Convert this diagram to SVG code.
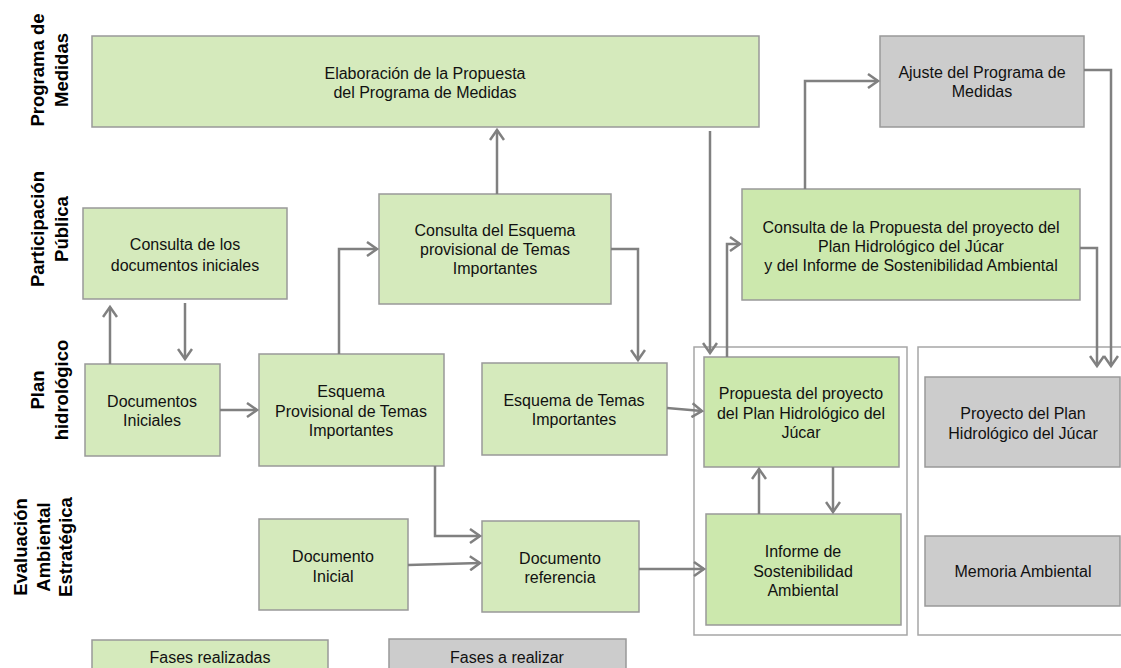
<svg xmlns="http://www.w3.org/2000/svg" width="1121" height="668" viewBox="0 0 1121 668">
<style>
.g{fill:#d5eabc;stroke:#999;stroke-width:1.5}
.g2{fill:#cce8ad;stroke:#999;stroke-width:1.5}
.gr{fill:#cccccc;stroke:#999;stroke-width:1.5}
.ob{fill:none;stroke:#a6a6a6;stroke-width:1.5}
.t{font-family:"Liberation Sans",Arial,sans-serif;font-size:16px;fill:#111;text-anchor:middle}
.lb{font-family:"Liberation Sans",Arial,sans-serif;font-size:18.5px;font-weight:bold;fill:#000;text-anchor:middle}
.c path{fill:none;stroke:#808080;stroke-width:2.5;marker-end:url(#ah)}
</style>
<defs>
<marker id="ah" markerUnits="userSpaceOnUse" markerWidth="14" markerHeight="16" viewBox="0 0 14 16" refX="11" refY="8" orient="auto">
<path d="M1,1 L11,8 L1,15" fill="none" stroke="#808080" stroke-width="2.5"/>
</marker>
</defs>
<rect width="1121" height="668" fill="#fff"/>

<g id="lanes">
<text class="lb" transform="translate(44,70) rotate(-90)">Programa de</text>
<text class="lb" transform="translate(68,70) rotate(-90)">Medidas</text>
<text class="lb" transform="translate(44,229) rotate(-90)">Participación</text>
<text class="lb" transform="translate(68,229) rotate(-90)">Pública</text>
<text class="lb" transform="translate(44,390) rotate(-90)">Plan</text>
<text class="lb" transform="translate(68,390) rotate(-90)">hidrológico</text>
<text class="lb" transform="translate(27,547) rotate(-90)">Evaluación</text>
<text class="lb" transform="translate(50,547) rotate(-90)">Ambiental</text>
<text class="lb" transform="translate(72,547) rotate(-90)">Estratégica</text>
</g>

<g id="outer1"><rect class="ob" x="694" y="347" width="213" height="288"/></g>
<g id="outer2"><rect class="ob" x="918" y="347" width="215" height="288"/></g>

<g id="elaboracion">
<rect class="g" x="92" y="36" width="667" height="91"/>
<text class="t" x="425" y="79">Elaboración de la Propuesta</text>
<text class="t" x="425" y="98">del Programa de Medidas</text>
</g>
<g id="consulta-docs">
<rect class="g" x="83" y="208" width="204" height="91"/>
<text class="t" x="185" y="250">Consulta de los</text>
<text class="t" x="185" y="271">documentos iniciales</text>
</g>
<g id="docs-iniciales">
<rect class="g" x="85" y="364" width="135" height="92"/>
<text class="t" x="152" y="407">Documentos</text>
<text class="t" x="152" y="426">Iniciales</text>
</g>
<g id="esquema-prov">
<rect class="g" x="259" y="354" width="185" height="112"/>
<text class="t" x="351" y="397">Esquema</text>
<text class="t" x="351" y="417">Provisional de Temas</text>
<text class="t" x="351" y="436">Importantes</text>
</g>
<g id="consulta-esquema">
<rect class="g" x="379" y="194" width="232" height="110"/>
<text class="t" x="495" y="236">Consulta del Esquema</text>
<text class="t" x="495" y="255">provisional de Temas</text>
<text class="t" x="495" y="274">Importantes</text>
</g>
<g id="esquema-temas">
<rect class="g" x="482" y="363" width="185" height="92"/>
<text class="t" x="574" y="406">Esquema de Temas</text>
<text class="t" x="574" y="425">Importantes</text>
</g>
<g id="doc-inicial">
<rect class="g" x="259" y="519" width="149" height="91"/>
<text class="t" x="333" y="562">Documento</text>
<text class="t" x="333" y="582">Inicial</text>
</g>
<g id="doc-referencia">
<rect class="g" x="482" y="521" width="157" height="91"/>
<text class="t" x="560" y="564">Documento</text>
<text class="t" x="560" y="583">referencia</text>
</g>
<g id="propuesta">
<rect class="g2" x="704" y="357" width="195" height="110"/>
<text class="t" x="801" y="399">Propuesta del proyecto</text>
<text class="t" x="801" y="419">del Plan Hidrológico del</text>
<text class="t" x="801" y="438">Júcar</text>
</g>
<g id="informe">
<rect class="g2" x="706" y="514" width="195" height="111"/>
<text class="t" x="803" y="557">Informe de</text>
<text class="t" x="803" y="577">Sostenibilidad</text>
<text class="t" x="803" y="596">Ambiental</text>
</g>
<g id="consulta-propuesta">
<rect class="g2" x="742" y="189" width="338" height="111"/>
<text class="t" x="911" y="233">Consulta de la Propuesta del proyecto del</text>
<text class="t" x="911" y="252">Plan Hidrológico del Júcar</text>
<text class="t" x="911" y="271">y del Informe de Sostenibilidad Ambiental</text>
</g>
<g id="ajuste">
<rect class="gr" x="880" y="36" width="204" height="91"/>
<text class="t" x="982" y="78">Ajuste del Programa de</text>
<text class="t" x="982" y="97">Medidas</text>
</g>
<g id="proyecto">
<rect class="gr" x="925" y="377" width="195" height="90"/>
<text class="t" x="1023" y="419">Proyecto del Plan</text>
<text class="t" x="1023" y="439">Hidrológico del Júcar</text>
</g>
<g id="memoria">
<rect class="gr" x="925" y="536" width="195" height="70"/>
<text class="t" x="1023" y="577">Memoria Ambiental</text>
</g>
<g id="leg-realizadas">
<rect class="g" x="92" y="640" width="236" height="40"/>
<text class="t" x="210" y="663">Fases realizadas</text>
</g>
<g id="leg-arealizar">
<rect class="gr" x="389" y="639" width="237" height="40"/>
<text class="t" x="507" y="663">Fases a realizar</text>
</g>

<g id="connectors" class="c">
<path d="M110,364 V307"/>
<path d="M185,303 V359"/>
<path d="M220,410 H257"/>
<path d="M339,354 V249 H377"/>
<path d="M497,194 V130"/>
<path d="M611,249 H638 V360"/>
<path d="M435,466 V536 H480"/>
<path d="M408,565 L480,563"/>
<path d="M639,569 H704"/>
<path d="M667,408 L702,411"/>
<path d="M710,131 V353"/>
<path d="M727,357 V244 H740"/>
<path d="M805,189 V81 H878"/>
<path d="M1084,70 H1111 V366"/>
<path d="M1080,248 H1097 V366"/>
<path d="M759,514 V469"/>
<path d="M833,467 V512"/>
</g>
</svg>
